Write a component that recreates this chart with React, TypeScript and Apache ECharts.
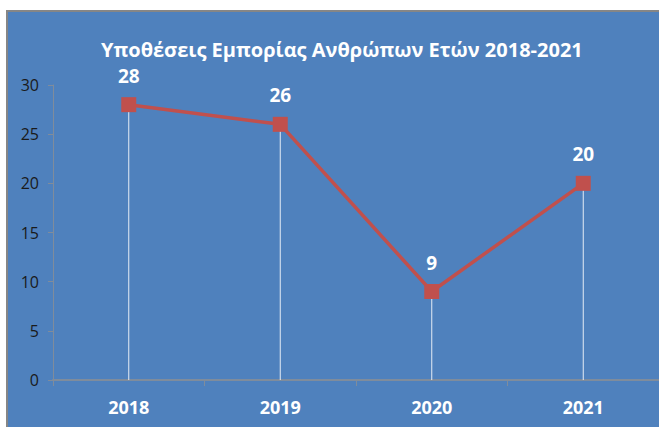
import React, { useEffect, useRef } from "react";
import * as echarts from "echarts";

const years = ["2018", "2019", "2020", "2021"];
const cases = [28, 26, 9, 20];
const yTicks = [0, 5, 10, 15, 20, 25, 30];
const titleText = "Υποθέσεις Εμπορίας Ανθρώπων Ετών 2018-2021";

export default function App() {
  const ref = useRef<HTMLDivElement>(null);
  useEffect(() => {
    if (!ref.current) return;
    const chart = echarts.init(ref.current, null, { renderer: "svg" });
    const font = "'Open Sans', 'Noto Sans', sans-serif";
    chart.setOption({
      animation: false,
      backgroundColor: "#ffffff",
      graphic: [
        {
          type: "rect",
          z: -10,
          shape: { x: 7, y: 11, width: 660, height: 420 },
          style: { fill: "#4F81BD", stroke: "#868686", lineWidth: 2 },
        },
      ],
      title: {
        text: titleText,
        left: 96,
        top: 34,
        textStyle: {
          color: "#ffffff",
          fontFamily: font,
          fontWeight: "bold",
          fontSize: 20,
        },
      },
      grid: { left: 53, right: -2, top: 85, bottom: 47 },
      xAxis: {
        type: "category",
        data: years,
        boundaryGap: true,
        axisLine: { lineStyle: { color: "#7F8C9C", width: 2 } },
        axisTick: { show: true, length: 6, lineStyle: { color: "#7F8C9C" } },
        axisLabel: {
          color: "#ffffff",
          fontFamily: font,
          fontWeight: "bold",
          fontSize: 18,
          margin: 18,
        },
        splitLine: { show: false },
      },
      yAxis: {
        type: "value",
        min: 0,
        max: 30,
        interval: 5,
        axisLine: { show: true, lineStyle: { color: "#7F8C9C", width: 1 } },
        axisTick: { show: true, length: 5, lineStyle: { color: "#7F8C9C" } },
        axisLabel: {
          color: "#1a1a1a",
          fontFamily: font,
          fontSize: 16,
          margin: 14,
          formatter: (v: number) => (yTicks.includes(v) ? String(v) : ""),
        },
        splitLine: { show: false },
      },
      series: [
        {
          type: "bar",
          data: cases,
          barWidth: 1,
          itemStyle: { color: "rgba(255,255,255,0.85)" },
          silent: true,
          z: 1,
        },
        {
          type: "line",
          data: cases,
          symbol: "rect",
          symbolSize: 15,
          lineStyle: { color: "#C0504D", width: 3.5 },
          itemStyle: { color: "#C0504D" },
          z: 3,
          label: {
            show: true,
            position: "top",
            distance: 12,
            color: "#ffffff",
            fontFamily: font,
            fontWeight: "bold",
            fontSize: 19,
          },
        },
      ],
    });
    return () => chart.dispose();
  }, []);
  return (
    <div
      ref={ref}
      style={{ position: "absolute", left: 0, top: 0, width: 659, height: 427 }}
    />
  );
}
